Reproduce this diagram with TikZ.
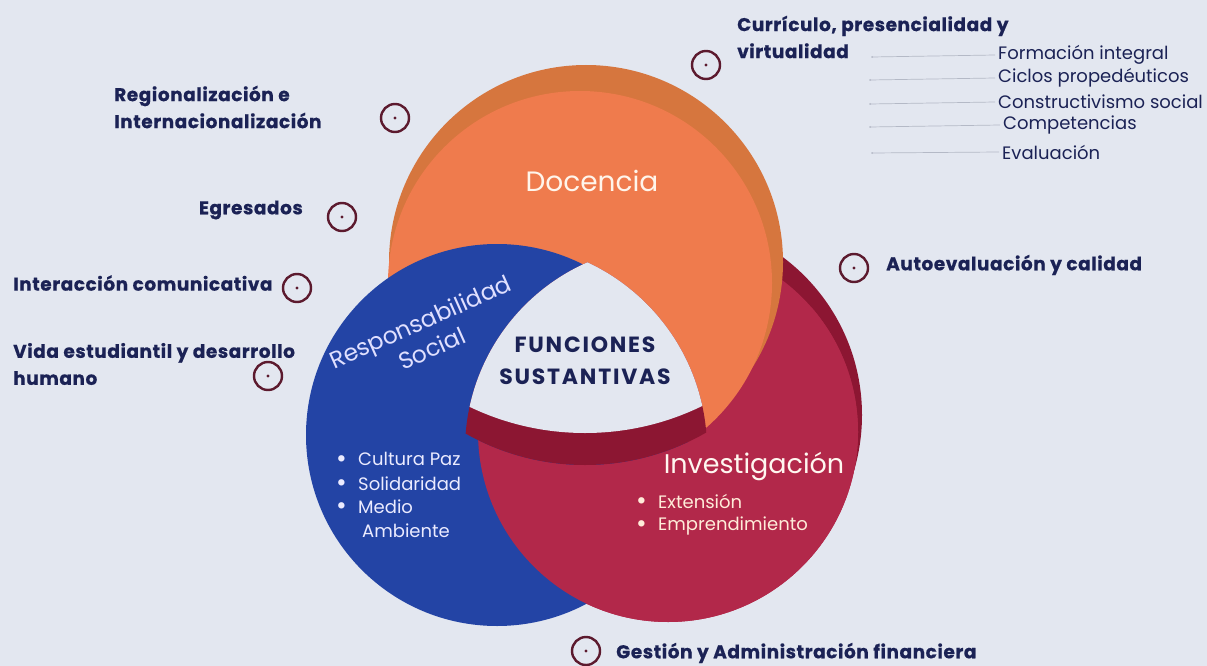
\documentclass[tikz,border=0pt]{standalone}
\usepackage{fontspec}
\setmainfont{Poppins}
\definecolor{bgc}{HTML}{E3E7F0}
\definecolor{orl}{HTML}{EF7B4D}
\definecolor{ord}{HTML}{D6763E}
\definecolor{blu}{HTML}{2344A5}
\definecolor{rdl}{HTML}{B2284A}
\definecolor{rdd}{HTML}{8C1632}
\definecolor{navy}{HTML}{1B2255}
\definecolor{ringc}{HTML}{5C1A2E}
\definecolor{linec}{HTML}{B4B9C6}
\newcommand{\blt}{\makebox[22pt][l]{\raisebox{-1.5pt}{\fontsize{26}{19}\selectfont •}}}
\begin{document}
\begin{tikzpicture}[x=1pt,y=-1pt,
  marker/.style={circle,draw=ringc,line width=2.4pt,minimum size=28pt,inner sep=0pt,
    path picture={\fill[ringc] (path picture bounding box.center) circle (1.7pt);}},
  lab/.style={inner sep=0pt,text=navy,font=\fontsize{18.5}{27}\selectfont\bfseries\addfontfeature{LetterSpace=3,FakeBold=0.6}},
  item/.style={inner sep=0pt,text=navy,font=\fontsize{18}{20}\selectfont},
  listline/.style={draw=linec,line width=0.7pt},
  bluetxt/.style={inner sep=0pt,text=blue!8!white,font=\fontsize{18}{20}\selectfont},
  redtxt/.style={inner sep=0pt,text=orange!15!white,font=\fontsize{18}{20}\selectfont}]
\useasboundingbox (0,0) rectangle (1207,666);
\fill[bgc] (0,0) rectangle (1207,666);
% Investigacion (red)
\fill[rdd] (665,415) circle (197);
\fill[rdl] (668,432) circle (190);
% Docencia (orange)
\fill[ord] (586,262) circle (197);
\fill[orl] (580,283) circle (192);
% Responsabilidad social (blue)
\fill[blu] (497,435) circle (191);
% red over blue in the lower part
\begin{scope}[even odd rule]
  \clip (0,0) rectangle (1207,666) (585,223) circle (242);
  \fill[rdl] (668,432) circle (190);
\end{scope}
% central region
\begin{scope}
  \clip (670,450) circle (205);
  \clip (500,450) circle (207);
  \fill[rdd] (585,223) circle (242);
  \fill[bgc] (585,166) circle (267);
\end{scope}
% texts in circles
\node[inner sep=0pt,text=white!92!orange,font=\fontsize{28}{30}\selectfont] (doc) at (592,181) {Docencia};
\node[inner sep=0pt,text=blue!12!white,font=\fontsize{23.5}{29}\selectfont,align=center,rotate=24] (rs) at (426,335) {Responsabilidad\\Social};
\node[inner sep=0pt,text=white!94!orange,font=\fontsize{27}{30}\selectfont] (inv) at (754,466) {Investigación};
\node[inner sep=0pt,text=navy,font=\fontsize{22}{32}\selectfont\bfseries\addfontfeature{LetterSpace=8},align=center] (fs) at (585,361) {FUNCIONES\\SUSTANTIVAS};
\node[bluetxt,anchor=west] (b1) at (336,460) {\blt Cultura Paz};
\node[bluetxt,anchor=west] (b2) at (336,484) {\blt Solidaridad};
\node[bluetxt,anchor=west] (b3) at (336,507) {\blt Medio};
\node[bluetxt,anchor=west] (b4) at (362,531) {Ambiente};
\node[redtxt,anchor=west] (r1) at (636,502) {\blt Extensión};
\node[redtxt,anchor=west] (r2) at (636,526) {\blt Emprendimiento};
% markers
\node[marker] (m1) at (395,118) {};
\node[marker] (m2) at (342,217) {};
\node[marker] (m3) at (297,288) {};
\node[marker] (m4) at (268,376) {};
\node[marker] (m5) at (706,65) {};
\node[marker] (m6) at (854,268) {};
\node[marker] (m7) at (586,651) {};
% outer labels
\node[lab,align=left,anchor=west] (l1) at (114,107) {Regionalización e\\Internacionalización};
\node[lab,anchor=east] (l2) at (303,210) {Egresados};
\node[lab,anchor=west] (l3) at (13,283) {Interacción comunicativa};
\node[lab,align=left,anchor=west] (l4) at (13,364) {Vida estudiantil y desarrollo\\humano};
\node[lab,align=left,anchor=west] (l5) at (737,37) {Currículo, presencialidad y\\virtualidad};
\node[lab,anchor=west] (l6) at (886,265) {Autoevaluación y calidad};
\node[lab,anchor=west] (l7) at (616,653) {Gestión y Administración financiera};
% list
\node[item,anchor=west] (f1) at (998,55) {Formación integral};
\node[item,anchor=west] (f2) at (998,78) {Ciclos propedéuticos};
\node[item,anchor=west] (f3) at (998,102) {Constructivismo social};
\node[item,anchor=west] (f4) at (1003,125) {Competencias};
\node[item,anchor=west] (f5) at (1002,152) {Evaluación};
\coordinate (c1) at (872,57);
\coordinate (c2) at (870,80);
\coordinate (c3) at (870,104);
\coordinate (c4) at (870,127);
\coordinate (c5) at (872,153);
\foreach \i in {1,...,5}{
  \draw[listline] (c\i) -- ([xshift=-3pt]f\i.west);
  \fill[linec] (c\i) circle (1pt);
}
\end{tikzpicture}
\end{document}
